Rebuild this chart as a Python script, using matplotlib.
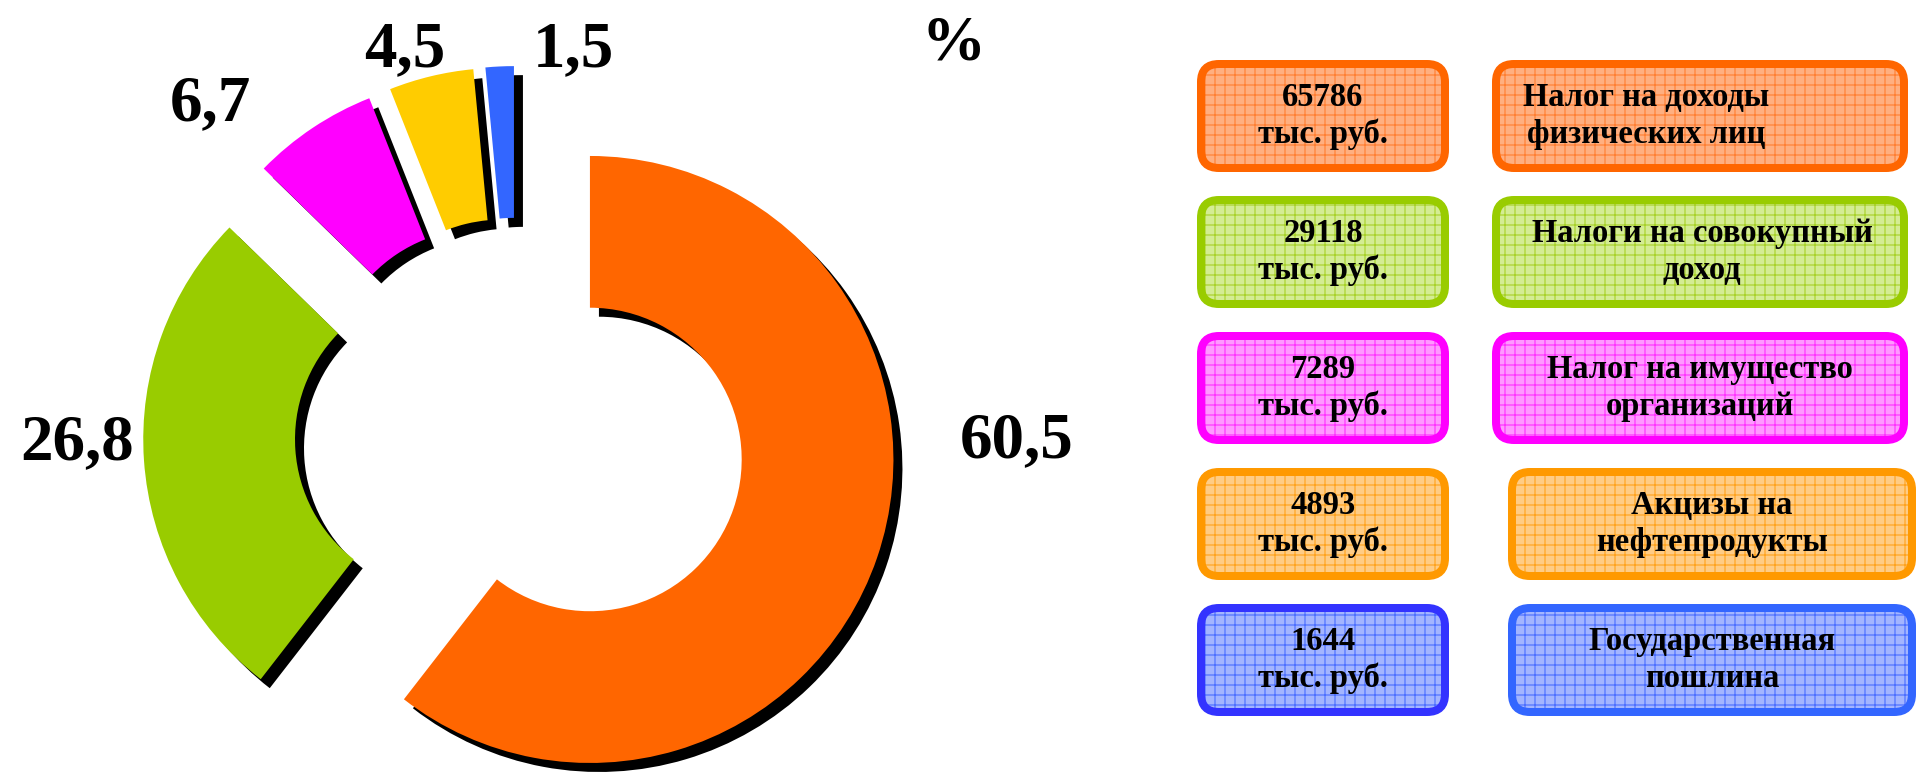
# Structure of tax revenues: exploded donut + rounded legend boxes
import matplotlib
matplotlib.use("Agg")
import matplotlib.pyplot as plt
import matplotlib.patches as patches
import matplotlib.patheffects as pe

# DATA
# ----
shares = [60.5, 26.8, 6.7, 4.5, 1.5]
share_labels = ["60,5", "26,8", "6,7", "4,5", "1,5"]
amounts = [65786, 29118, 7289, 4893, 1644]
tax_names = [
    "Налог на доходы\nфизических лиц",
    "Налоги на совокупный\nдоход",
    "Налог на имущество\nорганизаций",
    "Акцизы на\nнефтепродукты",
    "Государственная\nпошлина",
]

# STYLE
# -----
wedge_colors = ["#FF6600", "#99CC00", "#FF00FF", "#FFCC00", "#3366FF"]
box_edge_left = ["#FF6600", "#99CC00", "#FF00FF", "#FF9900", "#3333FF"]
box_edge_right = ["#FF6600", "#99CC00", "#FF00FF", "#FF9900", "#3366FF"]
box_fill = ["#FFAF80", "#D4EC94", "#FF99FF", "#FFCC85", "#A3B5FF"]
box_hatch = ["#FF7F33", "#A8D22A", "#FF33FF", "#FFA31F", "#4D70FF"]
explode_frac = [0.254, 0.232, 0.214, 0.214, 0.214]

W, H, DPI = 1919, 774, 120
plt.rcParams["hatch.linewidth"] = 0.7

fig = plt.figure(figsize=(W / DPI, H / DPI), dpi=DPI)
ax = fig.add_axes([0, 0, 1, 1])

def px(v):
    # pixels -> points at this dpi
    return v * 72 / DPI

# DONUT
# -----
R = 303.5
center = (517, H - 434.5)
wedges, _ = ax.pie(
    shares,
    colors=wedge_colors,
    startangle=90,
    counterclock=False,
    center=center,
    radius=R,
    explode=[f * R for f in explode_frac],
    wedgeprops=dict(width=R * 0.5, linewidth=0),
)
for w in wedges:
    w.set_path_effects([pe.withSimplePatchShadow(offset=(px(9), -px(9)),
                                                 shadow_rgbFace="black", alpha=1.0)])

# percent labels (baseline positions, y from top)
label_pos = [(1017, 457), (77, 459), (210, 120), (405, 66), (573, 66)]
for txt, (lx, ly) in zip(share_labels, label_pos):
    ax.text(lx, H - ly, txt, ha="center", va="baseline",
            fontsize=px(65), fontweight="bold", family="Liberation Serif")
ax.text(954, H - 60, "%", ha="center", va="baseline",
        fontsize=px(64), fontweight="bold", family="Liberation Serif")

# LEGEND BOXES
# ------------
row_top = [60, 196, 332, 468, 604]
box_h = 112
left_x = (1197, 1449)
right_x = [(1492, 1908), (1492, 1908), (1492, 1908), (1508, 1916), (1508, 1916)]
right_text_x = [1646, 1702, 1700, 1712, 1712]
bw = 8  # border width in px

def draw_box(x0, x1, top, edge, fill, hatch_col):
    y0 = H - top - box_h
    xy = (x0 + bw / 2, y0 + bw / 2)
    w, h = x1 - x0 - bw, box_h - bw
    style = "round,pad=0,rounding_size=18"
    ax.add_patch(patches.FancyBboxPatch(xy, w, h, boxstyle=style,
                                        facecolor=fill, edgecolor=hatch_col,
                                        linewidth=0, hatch="++", zorder=3))
    ax.add_patch(patches.FancyBboxPatch(xy, w, h, boxstyle=style,
                                        facecolor="none", edgecolor=edge,
                                        linewidth=px(bw), zorder=4))

for i in range(len(amounts)):
    top = row_top[i]
    cy = H - top - box_h / 2
    draw_box(left_x[0], left_x[1], top, box_edge_left[i], box_fill[i], box_hatch[i])
    draw_box(right_x[i][0], right_x[i][1], top, box_edge_right[i], box_fill[i], box_hatch[i])
    ax.text(sum(left_x) / 2, cy, f"{amounts[i]}\nтыс. руб.", ha="center", va="center",
            multialignment="center", linespacing=1.25, fontsize=px(32.5),
            fontweight="bold", family="Liberation Serif", zorder=5)
    ax.text(right_text_x[i], cy, tax_names[i], ha="center", va="center",
            multialignment="center", linespacing=1.25, fontsize=px(32.5),
            fontweight="bold", family="Liberation Serif", zorder=5)

ax.set_aspect("equal")
ax.set_xlim(0, W)
ax.set_ylim(0, H)
ax.axis("off")

fig.savefig("out.png", dpi=DPI, facecolor="white")
